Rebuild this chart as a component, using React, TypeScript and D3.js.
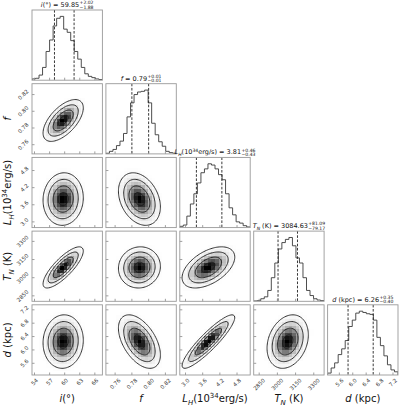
import React, { useEffect, useRef } from "react";
import * as d3 from "d3";

const WIDTH = 400;
const HEIGHT = 408;
const FONT = "'DejaVu Sans', sans-serif";

// ---- data ----
const rangeI = [53.5, 67.5];
const rangeF = [0.749, 0.833];
const rangeL = [2.8, 5.26];
const rangeT = [2805, 3385];
const rangeD = [5.25, 7.35];

const ticksI = [54, 57, 60, 63, 66];
const ticksF = [0.76, 0.78, 0.8, 0.82];
const ticksL = [3.0, 3.6, 4.2, 4.8];
const ticksT = [2850, 3000, 3150, 3300];
const ticksD = [5.6, 6.0, 6.4, 6.8, 7.2];

// 20-bin marginal histograms (relative counts)
const histI = [2, 3, 8, 20, 45, 63, 85, 97, 100, 80, 75, 62, 45, 33, 20, 10, 6, 4, 2, 1];
const histF = [1, 4, 7, 13, 20, 32, 58, 80, 93, 97, 98, 100, 80, 48, 30, 19, 12, 4, 2, 1];
const histL = [2, 4, 18, 37, 53, 70, 86, 92, 100, 98, 92, 83, 75, 53, 31, 20, 9, 7, 3, 1];
const histT = [0.5, 1, 4, 7, 17, 37, 60, 82, 92, 97, 100, 87, 68, 60, 37, 17, 9, 4, 2, 1];
const histD = [3, 11, 19, 32, 41, 54, 76, 86, 97, 100, 98, 96, 95, 86, 59, 46, 30, 16, 8, 5];

const medians = [59.85, 0.79, 3.81, 3084.63, 6.26];
const errPlus = [2.02, 0.01, 0.46, 81.09, 0.35];
const errMinus = [1.88, 0.01, 0.43, 79.17, 0.4];

// 2D density summaries
const centers = [59.7, 0.789, 3.8, 3085, 6.25];
const sigmas = [2.0, 0.0125, 0.46, 85, 0.4];
const corrRows = [
  [],
  [0.6],
  [0.05, -0.3],
  [0.8, 0.05, 0.5],
  [0.05, -0.5, 0.9, 0.25],
];
const contourSigmas = [2, 1.5, 1, 0.5];

type Seg = { t: string; it?: boolean; sh?: "sub" | "sup" };
const labelSegs: Seg[][] = [
  [{ t: "i", it: true }, { t: "(°)" }],
  [{ t: "f", it: true }],
  [{ t: "L", it: true }, { t: "H", it: true, sh: "sub" }, { t: "(10" }, { t: "34", sh: "sup" }, { t: "erg/s)" }],
  [{ t: "T", it: true }, { t: "N", it: true, sh: "sub" }, { t: " (K)" }],
  [{ t: "d", it: true }, { t: " (kpc)" }],
];

const LEFT = 32, RIGHT = 398, TOP = 10, BOTTOM = 375, K = 5, SPACE = 0.05;

function addSegs(text: any, segs: Seg[], fs: number) {
  let cur = 0;
  segs.forEach((s) => {
    const target = s.sh === "sub" ? 0.28 * fs : s.sh === "sup" ? -0.42 * fs : 0;
    const tsp = text
      .append("tspan")
      .attr("dy", target - cur)
      .attr("font-size", s.sh ? fs * 0.7 : fs)
      .text(s.t);
    if (s.it) tsp.attr("font-style", "italic");
    cur = target;
  });
}

function draw(svgEl: SVGSVGElement) {
  const svg = d3.select(svgEl);
  svg.selectAll("*").remove();
  svg.append("rect").attr("width", WIDTH).attr("height", HEIGHT).attr("fill", "#fff");

  const ranges = [rangeI, rangeF, rangeL, rangeT, rangeD];
  const hists = [histI, histF, histL, histT, histD];
  const ticks = [ticksI, ticksF, ticksL, ticksT, ticksD];
  const fmts = [d3.format("d"), d3.format(".2f"), d3.format(".1f"), d3.format("d"), d3.format(".1f")];

  const pw = (RIGHT - LEFT) / (K + (K - 1) * SPACE);
  const ph = (BOTTOM - TOP) / (K + (K - 1) * SPACE);
  const px0 = (c: number) => LEFT + c * pw * (1 + SPACE);
  const py0 = (r: number) => TOP + r * ph * (1 + SPACE);
  const xScale = (c: number) => d3.scaleLinear().domain(ranges[c]).range([px0(c), px0(c) + pw]);
  const yScale = (r: number) => d3.scaleLinear().domain(ranges[r]).range([py0(r) + ph, py0(r)]);

  const defs = svg.append("defs");

  for (let r = 0; r < K; r++) {
    for (let c = 0; c <= r; c++) {
      const x0 = px0(c), y0 = py0(r);
      const clipId = `clip-${r}-${c}`;
      defs.append("clipPath").attr("id", clipId).append("rect")
        .attr("x", x0).attr("y", y0).attr("width", pw).attr("height", ph);
      const g = svg.append("g");
      const inner = g.append("g").attr("clip-path", `url(#${clipId})`);
      const xs = xScale(c);

      if (r === c) {
        const counts = hists[c];
        const [a, b] = ranges[c];
        const edges = d3.range(counts.length + 1).map((k) => a + (k * (b - a)) / counts.length);
        const ys = d3.scaleLinear().domain([0, 1.1 * (d3.max(counts) as number)]).range([y0 + ph, y0]);
        const pts: [number, number][] = [[edges[0], 0]];
        counts.forEach((v, k) => { pts.push([edges[k], v]); pts.push([edges[k + 1], v]); });
        pts.push([edges[edges.length - 1], 0]);
        const line = d3.line<[number, number]>().x((p) => xs(p[0])).y((p) => ys(p[1]));
        inner.append("path").attr("d", line(pts) as string).attr("fill", "none")
          .attr("stroke", "#3a3a3a").attr("stroke-width", 0.9);
        [medians[c] - errMinus[c], medians[c] + errPlus[c]].forEach((q) => {
          inner.append("line").attr("x1", xs(q)).attr("x2", xs(q)).attr("y1", y0).attr("y2", y0 + ph)
            .attr("stroke", "#222").attr("stroke-width", 0.9).attr("stroke-dasharray", "2.6,1.6");
        });
      } else {
        const ys = yScale(r);
        const [xa, xb] = ranges[c];
        const [ya, yb] = ranges[r];
        const rho = corrRows[r][c];
        const dens = (x: number, y: number) => {
          const zx = (x - centers[c]) / sigmas[c];
          const zy = (y - centers[r]) / sigmas[r];
          const q = (zx * zx - 2 * rho * zx * zy + zy * zy) / (1 - rho * rho);
          return Math.exp(-0.5 * q);
        };
        // density cells (20 x 20)
        const n = 20;
        const vals: number[][] = [];
        let maxv = 0;
        for (let i = 0; i < n; i++) {
          vals.push([]);
          for (let j = 0; j < n; j++) {
            const v = dens(xa + ((i + 0.5) * (xb - xa)) / n, ya + ((j + 0.5) * (yb - ya)) / n);
            vals[i].push(v);
            if (v > maxv) maxv = v;
          }
        }
        const xe = d3.range(n + 1).map((k) => Math.round(xs(xa + (k * (xb - xa)) / n)));
        const ye = d3.range(n + 1).map((k) => Math.round(ys(ya + (k * (yb - ya)) / n)));
        for (let i = 0; i < n; i++) {
          for (let j = 0; j < n; j++) {
            const v = vals[i][j] / maxv;
            const op = v * v;
            if (op < 0.004) continue;
            inner.append("rect")
              .attr("x", xe[i]).attr("y", ye[j + 1])
              .attr("width", xe[i + 1] - xe[i]).attr("height", ye[j] - ye[j + 1])
              .attr("fill", "#000").attr("fill-opacity", op)
              .attr("shape-rendering", "crispEdges");
          }
        }
        // contour lines
        const m = 60;
        const grid: number[] = new Array(m * m);
        for (let j = 0; j < m; j++) {
          for (let i = 0; i < m; i++) {
            grid[j * m + i] = dens(xa + ((i + 0.5) * (xb - xa)) / m, ya + ((j + 0.5) * (yb - ya)) / m);
          }
        }
        const levels = contourSigmas.map((s) => Math.exp(-0.5 * s * s));
        const polys = d3.contours().size([m, m]).thresholds(levels)(grid);
        const proj = d3.geoTransform({
          point: function (this: any, x: number, y: number) {
            this.stream.point(xs(xa + (x / m) * (xb - xa)), ys(ya + (y / m) * (yb - ya)));
          },
        });
        const path = d3.geoPath(proj as any);
        polys.forEach((p) => {
          inner.append("path").attr("d", path(p as any) as string).attr("fill", "none")
            .attr("stroke", "#1a1a1a").attr("stroke-width", 0.9);
        });
        // y ticks
        ticks[r].forEach((t) => {
          g.append("line").attr("x1", x0).attr("x2", x0 + 2.5).attr("y1", ys(t)).attr("y2", ys(t))
            .attr("stroke", "#888").attr("stroke-width", 0.8);
        });
        if (c === 0) {
          ticks[r].forEach((t) => {
            const tx = g.append("text").attr("font-family", FONT).attr("font-size", 5.5)
              .attr("fill", "#333").attr("text-anchor", "middle").attr("dominant-baseline", "central")
              .text(fmts[r](t));
            const L = (tx.node() as SVGTextElement).getComputedTextLength();
            const half = (L + 5.5) / (2 * Math.SQRT2);
            tx.attr("transform", `translate(${x0 - 2.5 - half},${ys(t)}) rotate(-45)`);
          });
        }
      }
      // x ticks
      ticks[c].forEach((t) => {
        g.append("line").attr("x1", xs(t)).attr("x2", xs(t)).attr("y1", y0 + ph).attr("y2", y0 + ph - 2.5)
          .attr("stroke", "#888").attr("stroke-width", 0.8);
      });
      if (r === K - 1) {
        ticks[c].forEach((t) => {
          const tx = g.append("text").attr("font-family", FONT).attr("font-size", 5.5)
            .attr("fill", "#333").attr("text-anchor", "middle").attr("dominant-baseline", "central")
            .text(fmts[c](t));
          const L = (tx.node() as SVGTextElement).getComputedTextLength();
          const half = (L + 5.5) / (2 * Math.SQRT2);
          tx.attr("transform", `translate(${xs(t)},${y0 + ph + 2.5 + half}) rotate(-45)`);
        });
      }
      // frame
      g.append("rect").attr("x", x0).attr("y", y0).attr("width", pw).attr("height", ph)
        .attr("fill", "none").attr("stroke", "#999").attr("stroke-width", 0.9);
    }
  }

  // axis labels
  for (let c = 0; c < K; c++) {
    const t = svg.append("text").attr("font-family", FONT).attr("font-size", 10).attr("fill", "#111")
      .attr("text-anchor", "middle")
      .attr("transform", `translate(${px0(c) + pw / 2},402)`);
    addSegs(t, labelSegs[c], 10);
  }
  for (let r = 1; r < K; r++) {
    const t = svg.append("text").attr("font-family", FONT).attr("font-size", 10).attr("fill", "#111")
      .attr("text-anchor", "middle")
      .attr("transform", `translate(11,${py0(r) + ph / 2}) rotate(-90)`);
    addSegs(t, labelSegs[r], 10);
  }

  // titles
  const fmt2 = d3.format(".2f");
  for (let c = 0; c < K; c++) {
    const fs = 6.5;
    const g = svg.append("g");
    const main = g.append("text").attr("font-family", FONT).attr("font-size", fs).attr("fill", "#111");
    addSegs(main, [...labelSegs[c], { t: ` = ${fmt2(medians[c])}` }], fs);
    const w = (main.node() as SVGTextElement).getComputedTextLength();
    const sup = g.append("text").attr("font-family", FONT).attr("font-size", fs * 0.7).attr("fill", "#111")
      .attr("x", w + 0.4).attr("y", -2.9).text(`+${fmt2(errPlus[c])}`);
    const sub = g.append("text").attr("font-family", FONT).attr("font-size", fs * 0.7).attr("fill", "#111")
      .attr("x", w + 0.4).attr("y", 1.6).text(`−${fmt2(errMinus[c])}`);
    const ws = Math.max(
      (sup.node() as SVGTextElement).getComputedTextLength(),
      (sub.node() as SVGTextElement).getComputedTextLength()
    );
    const total = w + 0.4 + ws;
    const cx = px0(c) + pw / 2;
    g.attr("transform", `translate(${cx - total / 2},${py0(c) - 3})`);
  }
}

export default function App() {
  const ref = useRef<SVGSVGElement>(null);
  useEffect(() => {
    if (ref.current) draw(ref.current);
  }, []);
  return (
    <svg
      ref={ref}
      width={WIDTH}
      height={HEIGHT}
      style={{ position: "absolute", left: 0, top: 0, display: "block" }}
    />
  );
}
